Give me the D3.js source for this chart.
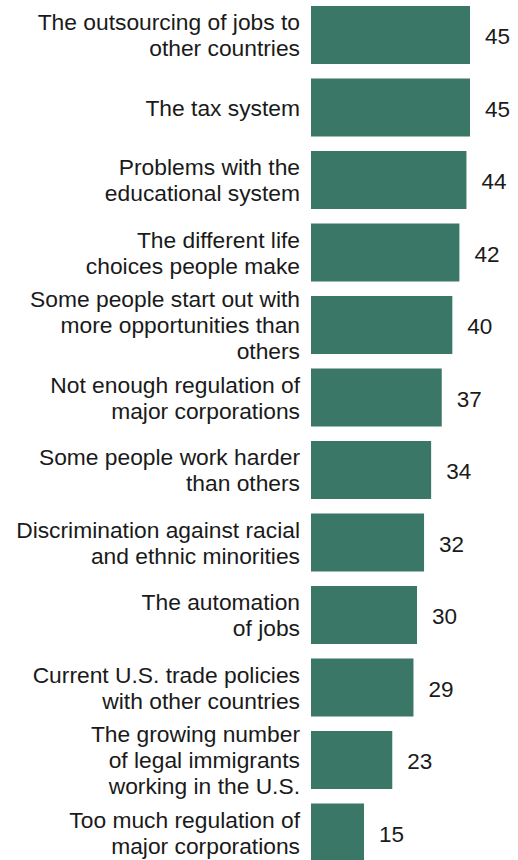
<!DOCTYPE html>
<html>
<head>
<meta charset="utf-8">
<script src="https://cdn.jsdelivr.net/npm/d3@7"></script>
<style>
  html, body { margin: 0; padding: 0; background: #ffffff; }
  svg { display: block; }
  text { font-family: "Liberation Sans", Arial, sans-serif; fill: #1a1a1a; }
</style>
</head>
<body>
<script>
// Reasons for economic inequality, share saying each contributes a great deal (%)
const categories = [
  ["The outsourcing of jobs to", "other countries"],
  ["The tax system"],
  ["Problems with the", "educational system"],
  ["The different life", "choices people make"],
  ["Some people start out with", "more opportunities than", "others"],
  ["Not enough regulation of", "major corporations"],
  ["Some people work harder", "than others"],
  ["Discrimination against racial", "and ethnic minorities"],
  ["The automation", "of jobs"],
  ["Current U.S. trade policies", "with other countries"],
  ["The growing number", "of legal immigrants", "working in the U.S."],
  ["Too much regulation of", "major corporations"]
];
const values = [45, 45, 44, 42, 40, 37, 34, 32, 30, 29, 23, 15];

const width = 518, height = 860;
const barColor = "#3a7767";
const fontSize = 22.8;
const lineHeight = 25.8;

const svg = d3.select("body").append("svg")
  .attr("width", width)
  .attr("height", height);

const idx = d3.range(categories.length);

const y = d3.scaleBand()
  .domain(idx)
  .range([6, 6 + 11 * 72.5 + 58])
  .paddingInner(0.2)
  .paddingOuter(0);

const x = d3.scaleLinear()
  .domain([0, 45])
  .range([311, 470]);

const rows = svg.selectAll("g.row")
  .data(idx)
  .join("g")
  .attr("class", "row");

rows.append("rect")
  .attr("x", x(0))
  .attr("y", i => y(i))
  .attr("width", i => x(values[i]) - x(0))
  .attr("height", y.bandwidth())
  .attr("fill", barColor);

// Value labels to the right of each bar
rows.append("text")
  .attr("x", i => x(values[i]) + 15)
  .attr("y", i => y(i) + y.bandwidth() / 2 + 1)
  .attr("dy", "0.36em")
  .attr("font-size", 22.5)
  .text(i => values[i]);

// Category labels, right-aligned and vertically centred on the bar
rows.append("text")
  .attr("text-anchor", "end")
  .attr("font-size", fontSize)
  .each(function(i) {
    const lines = categories[i];
    const cy = y(i) + y.bandwidth() / 2;
    const first = cy - (lines.length - 1) * lineHeight / 2;
    d3.select(this).selectAll("tspan")
      .data(lines)
      .join("tspan")
      .attr("x", 300)
      .attr("y", (d, k) => first + k * lineHeight)
      .attr("dy", "0.36em")
      .text(d => d);
  });
</script>
</body>
</html>
